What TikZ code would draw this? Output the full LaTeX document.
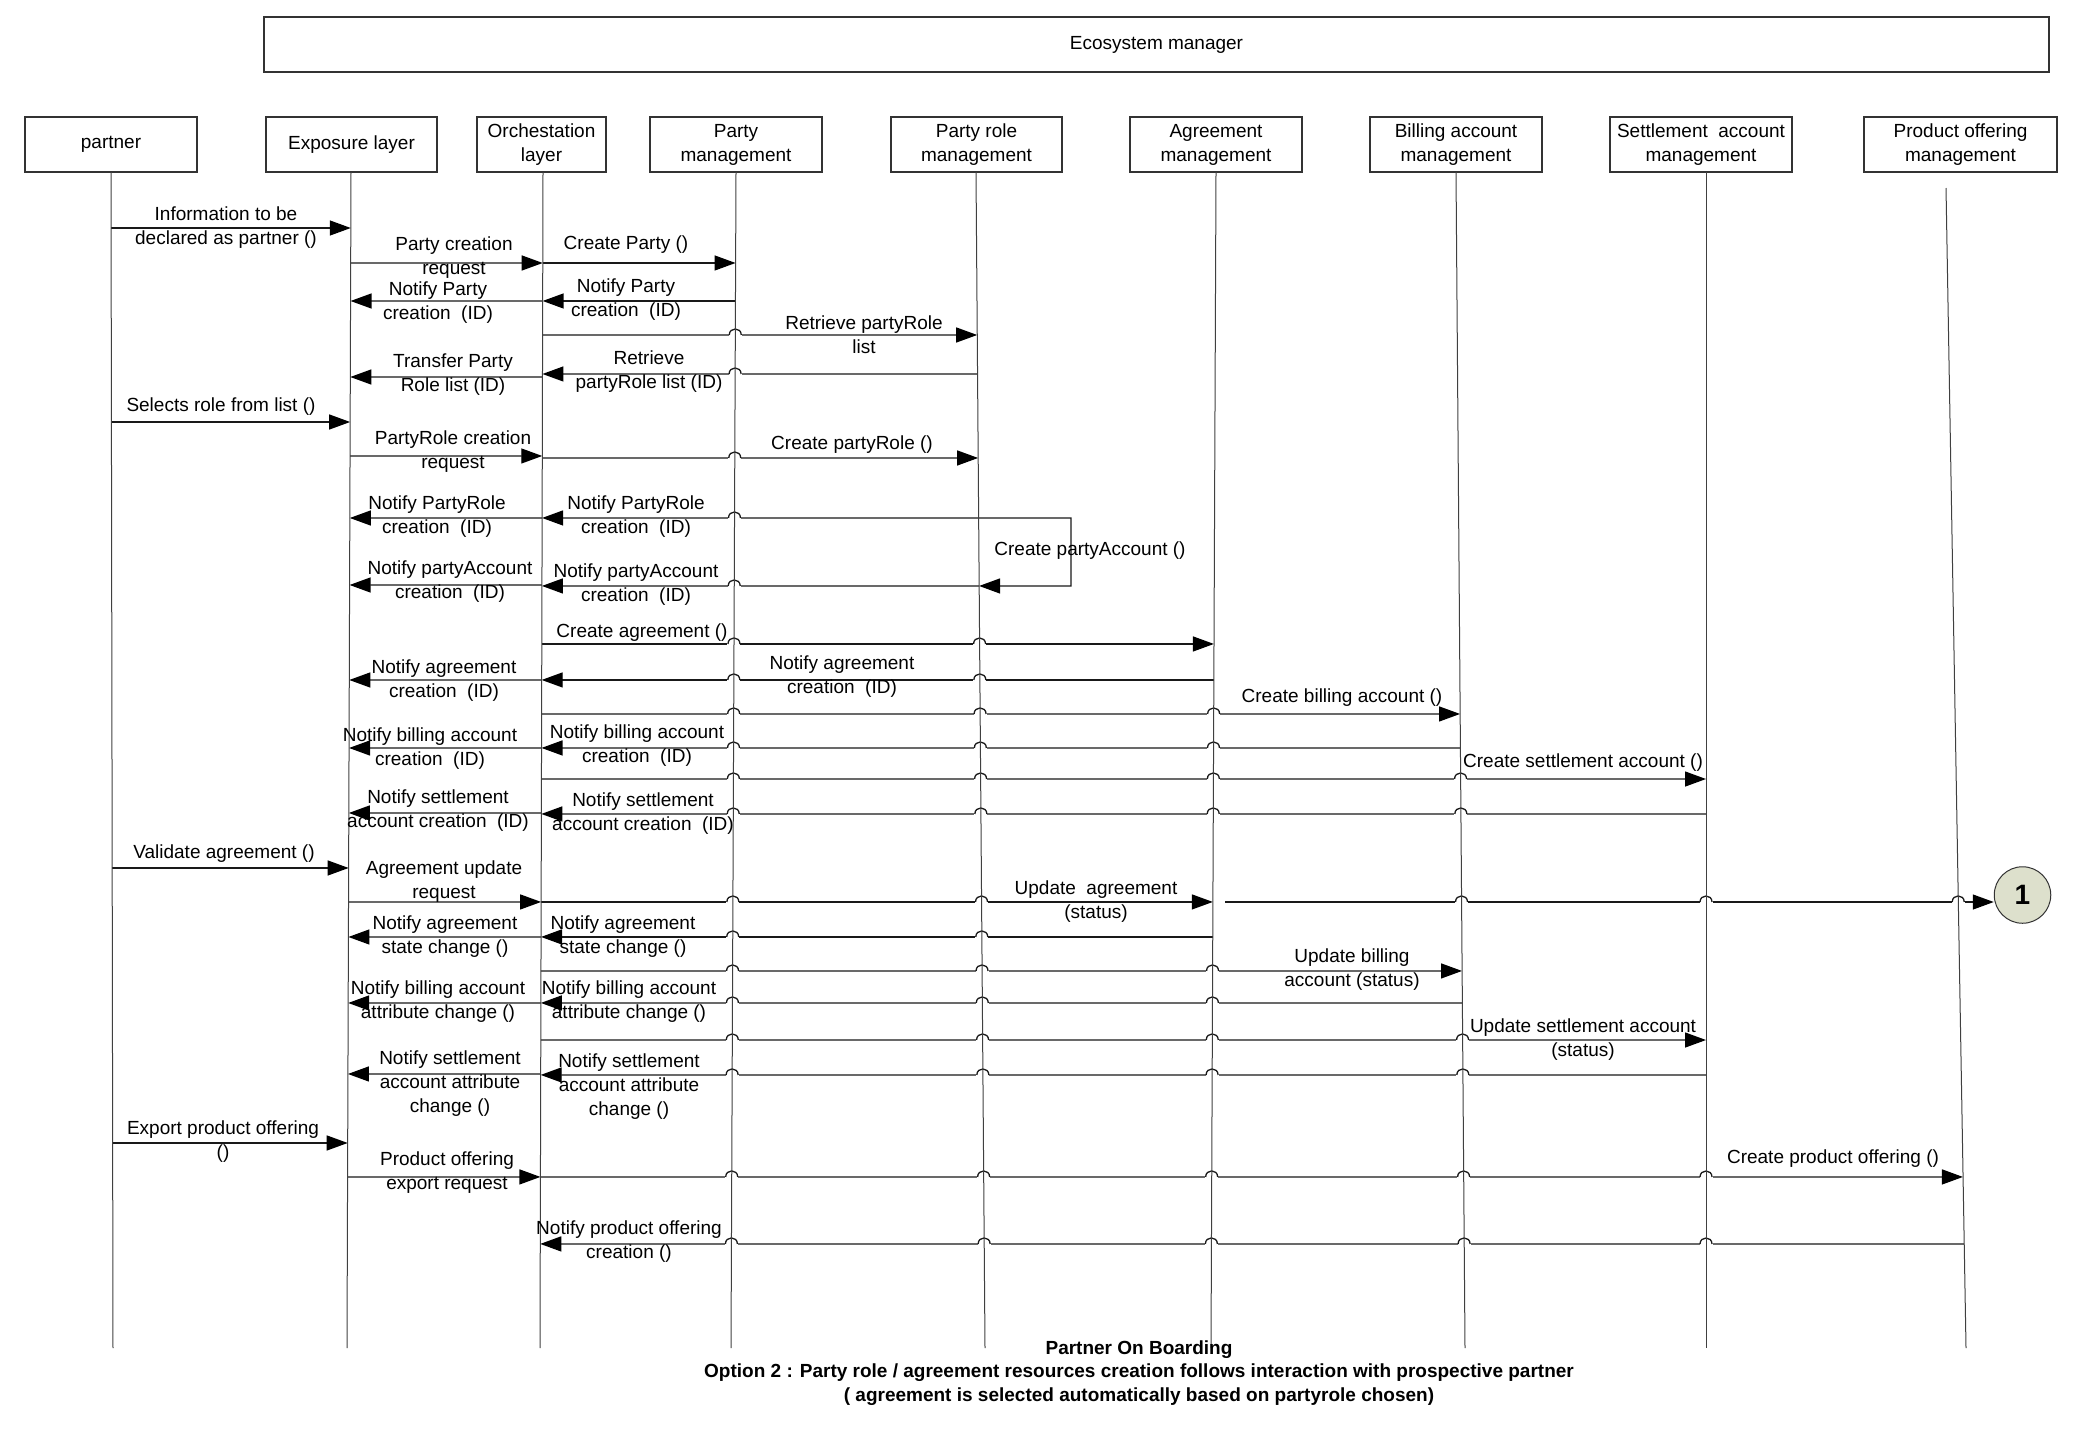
\documentclass[tikz,border=0pt]{standalone}
\usepackage{fontspec}
\setmainfont{Liberation Sans}
\usetikzlibrary{arrows.meta,calc}
\newcommand\fsz{\fontsize{19}{24}\selectfont}
\tikzset{
 hbox/.style={draw=black!80, line width=1.2pt, minimum height=55pt, inner sep=2pt, align=center, font=\fsz},
 life/.style={line width=1pt, draw=black!75},
 msgline/.style={line width=1.3pt, draw=black!90},
 arr/.style={msgline, -{Triangle[length=21pt,width=15pt,fill=black,color=black]}},
 lbl/.style={inner sep=0pt, align=center, font=\fsz},
}
% message between two lifelines at height y
\newcommand\msg[4]{%
  \coordinate (#1s) at (intersection of #2t--#2b and 0,#4--10,#4);
  \coordinate (#1e) at (intersection of #3t--#3b and 0,#4--10,#4);
  \draw[arr] (#1s) -- (#1e);}
% line jumps over lifelines
\newcommand\bump[2]{%
  \coordinate (bx) at (intersection of #1t--#1b and 0,#2--10,#2);
  \fill[white] ($(bx)+(-6.5,-2)$) rectangle ($(bx)+(6.5,2)$);
  \draw[msgline] ($(bx)+(-6,0)$) .. controls ($(bx)+(-6,-8)$) and ($(bx)+(6,-8)$) .. ($(bx)+(6,0)$);}
\newcommand\bumps[2]{\foreach \L in {#2}{\bump{\L}{#1}}}
\begin{document}
\begin{tikzpicture}[x=1pt,y=-1pt]
\useasboundingbox (0,0) rectangle (2079,1428);
% header boxes
\node[hbox, minimum width=1785pt] (eco) at (1156.5,44.5) {Ecosystem manager};
\node[hbox, minimum width=172pt] (partner) at (111,144.5) {partner};
\node[hbox, minimum width=171pt] (expo) at (351.5,144.5) {Exposure layer};
\node[hbox, minimum width=129pt] (orch) at (541.5,144.5) {Orchestation\\layer};
\node[hbox, minimum width=172pt] (party) at (736,144.5) {Party\\management};
\node[hbox, minimum width=171pt] (prole) at (976.5,144.5) {Party role\\management};
\node[hbox, minimum width=172pt] (agree) at (1216,144.5) {Agreement\\management};
\node[hbox, minimum width=172pt] (bill) at (1456,144.5) {Billing account\\management};
\node[hbox, minimum width=182pt] (settle) at (1701,144.5) {Settlement\ \ account\\management};
\node[hbox, minimum width=193pt] (po) at (1960.5,144.5) {Product offering\\management};
% lifeline ends
\coordinate (Pt) at (111,172);  \coordinate (Pb) at (113,1348);
\coordinate (Et) at (351,172);  \coordinate (Eb) at (347,1348);
\coordinate (Ot) at (543,172);  \coordinate (Ob) at (540,1348);
\coordinate (Mt) at (736,172);  \coordinate (Mb) at (731,1348);
\coordinate (Rt) at (976,172);  \coordinate (Rb) at (985,1348);
\coordinate (At) at (1216,172); \coordinate (Ab) at (1211,1348);
\coordinate (Bt) at (1456,172); \coordinate (Bb) at (1465,1348);
\coordinate (St) at (1706,172); \coordinate (Sb) at (1706,1348);
\coordinate (Qt) at (1946,188); \coordinate (Qb) at (1966,1348);
% messages
\msg{m1}{P}{E}{228}
\msg{m2}{E}{O}{263}
\msg{m3}{O}{M}{263}
\msg{m4}{M}{O}{301}
\msg{m5}{O}{E}{301}
\msg{m6}{O}{R}{335} \bumps{335}{M}
\msg{m7}{R}{O}{374} \bumps{374}{M}
\msg{m8}{O}{E}{377}
\msg{m9}{P}{E}{422}
\msg{m10}{E}{O}{456}
\msg{m11}{O}{R}{458} \bumps{458}{M}
\msg{m12}{R}{O}{518} \bumps{518}{M}
\msg{m13}{O}{E}{518}
\msg{m14}{R}{O}{586} \bumps{586}{M}
\msg{m15}{O}{E}{585}
% self call on party role
\coordinate (lpa) at (1071,518);
\coordinate (lpb) at (1071,586);
\draw[arr] (m12s) -- (lpa) -- (lpb) -- (m14s);
\msg{m16}{O}{A}{644} \bumps{644}{M,R}
\msg{m17}{A}{O}{680} \bumps{680}{M,R}
\msg{m18}{O}{E}{680}
\msg{m19}{O}{B}{714} \bumps{714}{M,R,A}
\msg{m20}{B}{O}{748} \bumps{748}{M,R,A}
\msg{m21}{O}{E}{748}
\msg{m22}{O}{S}{779} \bumps{779}{M,R,A,B}
\msg{m23}{S}{O}{814} \bumps{814}{M,R,A,B}
\msg{m24}{O}{E}{813}
\msg{m25}{P}{E}{868}
\msg{m26}{E}{O}{902}
\msg{m27}{O}{A}{902} \bumps{902}{M,R}
% circle connector
\node[circle, draw=black!80, line width=1pt, fill={rgb,255:red,221;green,224;blue,204}, minimum size=56.5pt, inner sep=0pt, font=\bfseries\fontsize{28}{30}\selectfont] (c1) at (2022.5,895) {1};
\coordinate (m28s) at (1225,902);
\draw[arr] (m28s) -- (m28s -| c1.west);
\bumps{902}{B,S,Q}
\msg{m29}{A}{O}{937} \bumps{937}{M,R}
\msg{m30}{O}{E}{937}
\msg{m31}{O}{B}{971} \bumps{971}{M,R,A}
\msg{m32}{B}{O}{1003} \bumps{1003}{M,R,A}
\msg{m33}{O}{E}{1003}
\msg{m34}{O}{S}{1040} \bumps{1040}{M,R,A,B}
\msg{m35}{S}{O}{1075} \bumps{1075}{M,R,A,B}
\msg{m36}{O}{E}{1074}
\msg{m37}{P}{E}{1143}
\msg{m38}{E}{O}{1177}
\msg{m39}{O}{Q}{1177} \bumps{1177}{M,R,A,B,S}
\msg{m40}{Q}{O}{1244} \bumps{1244}{M,R,A,B,S}
% lifelines
\foreach \L in {P,E,O,M,R,A,B,S,Q}{\draw[life] (\L t) -- (\L b);}
% labels
\node[lbl] (l1) at (226,228) {Information to be\\declared as partner ()};
\node[lbl] (l2) at (454,258) {Party creation\\request};
\node[lbl] (l3) at (626,245) {Create Party ()};
\node[lbl] (l4) at (626,300) {Notify Party\\creation\ \ (ID)};
\node[lbl] (l5) at (438,303) {Notify Party\\creation\ \ (ID)};
\node[lbl] (l6) at (864,335) {Retrieve partyRole\\list};
\node[lbl] (l7) at (649,372) {Retrieve\\partyRole list (ID)};
\node[lbl] (l8) at (453,375) {Transfer Party\\Role list (ID)};
\node[lbl] (l9) at (221,407) {Selects role from list ()};
\node[lbl] (l10) at (453,452) {PartyRole creation\\request};
\node[lbl] (l11) at (852,445) {Create partyRole ()};
\node[lbl] (l12) at (437,517) {Notify PartyRole\\creation\ \ (ID)};
\node[lbl] (l13) at (636,517) {Notify PartyRole\\creation\ \ (ID)};
\node[lbl] (l14) at (1090,551) {Create partyAccount ()};
\node[lbl] (l15) at (450,582) {Notify partyAccount\\creation\ \ (ID)};
\node[lbl] (l16) at (636,585) {Notify partyAccount\\creation\ \ (ID)};
\node[lbl] (l17) at (642,633) {Create agreement ()};
\node[lbl] (l18) at (842,677) {Notify agreement\\creation\ \ (ID)};
\node[lbl] (l19) at (444,681) {Notify agreement\\creation\ \ (ID)};
\node[lbl] (l20) at (1342,698) {Create billing account ()};
\node[lbl] (l21) at (637,746) {Notify billing account\\creation\ \ (ID)};
\node[lbl] (l22) at (430,749) {Notify billing account\\creation\ \ (ID)};
\node[lbl] (l23) at (1583,763) {Create settlement account ()};
\node[lbl] (l24) at (643,814) {Notify settlement\\account creation\ \ (ID)};
\node[lbl] (l25) at (438,811) {Notify settlement\\account creation\ \ (ID)};
\node[lbl] (l26) at (224,854) {Validate agreement ()};
\node[lbl] (l27) at (444,882) {Agreement update\\request};
\node[lbl] (l28) at (1096,902) {Update\ \ agreement\\(status)};
\node[lbl] (l29) at (623,937) {Notify agreement\\state change ()};
\node[lbl] (l30) at (445,937) {Notify agreement\\state change ()};
\node[lbl] (l31) at (1352,970) {Update billing\\account (status)};
\node[lbl] (l32) at (629,1002) {Notify billing account\\attribute change ()};
\node[lbl] (l33) at (438,1002) {Notify billing account\\attribute change ()};
\node[lbl] (l34) at (1583,1040) {Update settlement account\\(status)};
\node[lbl] (l35) at (629,1087) {Notify settlement\\account attribute\\change ()};
\node[lbl] (l36) at (450,1084) {Notify settlement\\account attribute\\change ()};
\node[lbl] (l37) at (223,1142) {Export product offering\\()};
\node[lbl] (l38) at (447,1173) {Product offering\\export request};
\node[lbl] (l39) at (1833,1159) {Create product offering ()};
\node[lbl] (l40) at (629,1242) {Notify product offering\\creation ()};
% caption
\node[lbl, font=\bfseries\fontsize{19}{23.5}\selectfont] (cap) at (1139,1373) {Partner On Boarding\\Option 2 : Party role / agreement resources creation follows interaction with prospective partner\\( agreement is selected automatically based on partyrole chosen)};
\end{tikzpicture}
\end{document}
